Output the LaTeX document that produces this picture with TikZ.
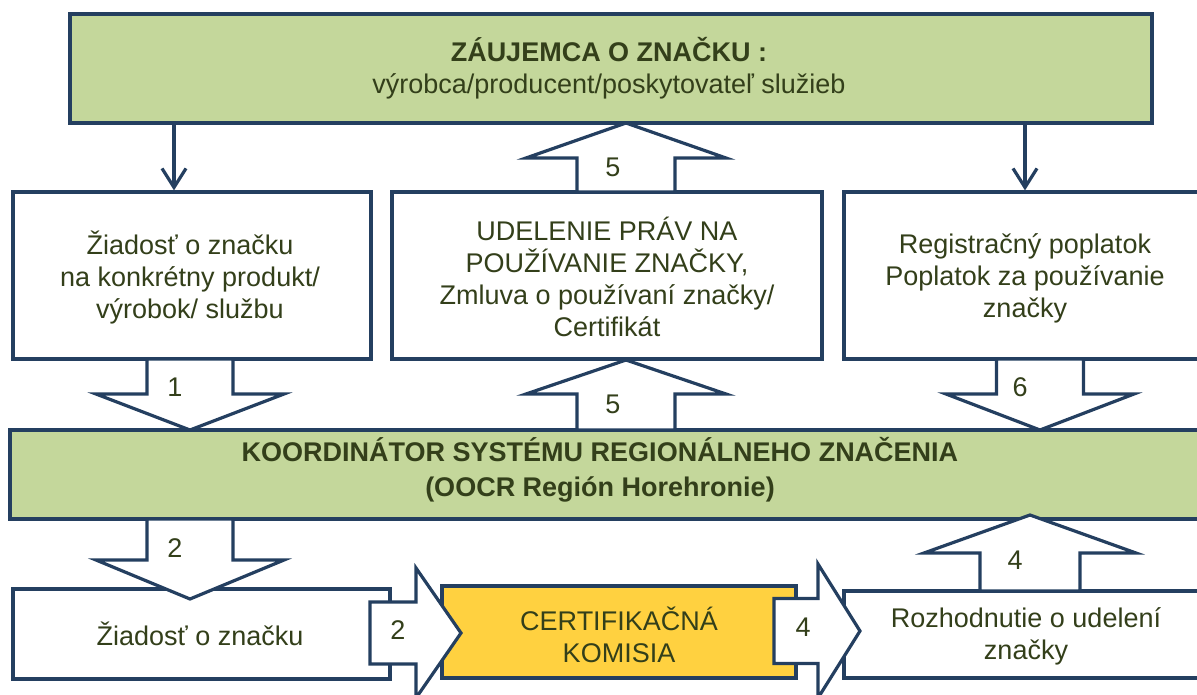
\documentclass[tikz,border=0pt]{standalone}
\usepackage{fontspec}
\setmainfont{Liberation Sans}
\usetikzlibrary{arrows.meta}
\definecolor{bord}{HTML}{243F60}
\definecolor{grn}{HTML}{C4D79B}
\definecolor{yel}{HTML}{FFD140}
\definecolor{txt}{HTML}{333F1A}
\newcommand{\vbarrow}[6]{% xc, ystart, ybase, ytip, shaft half, head half
  \draw[barrow] ({#1-#5},#2) -- ({#1-#5},#3) -- ({#1-#6},#3) -- (#1,#4) -- ({#1+#6},#3) -- ({#1+#5},#3) -- ({#1+#5},#2) -- cycle;}
\newcommand{\hbarrow}[6]{% yc, xstart, xbase, xtip, shaft half, head half
  \draw[barrow] (#2,{#1-#5}) -- (#3,{#1-#5}) -- (#3,{#1-#6}) -- (#4,#1) -- (#3,{#1+#6}) -- (#3,{#1+#5}) -- (#2,{#1+#5}) -- cycle;}
\begin{document}
\begin{tikzpicture}[x=1pt,y=-1pt,
  box/.style={draw=bord, line width=3.2pt, fill=white, inner sep=0pt},
  greenbox/.style={box, fill=grn},
  yelbox/.style={box, fill=yel},
  lbl/.style={text=txt, font=\fontsize{27}{32}\selectfont, align=center, inner sep=0pt},
  blbl/.style={lbl, font=\fontsize{27}{35}\selectfont\bfseries},
  barrow/.style={draw=bord, line width=3.2pt, fill=white, line join=miter},
  conn/.style={draw=bord, line width=3.2pt, -{Straight Barb[length=19pt,width=24pt]}}]
\useasboundingbox (0,0) rectangle (1197,694);
% boxes
\node[greenbox, minimum width=1082pt, minimum height=109pt] (top) at (611,68.5) {};
\node[box, minimum width=358pt, minimum height=167pt] (lbox) at (192,275.5) {};
\node[box, minimum width=430pt, minimum height=167pt] (mbox) at (607,275.5) {};
\node[box, minimum width=371pt, minimum height=167pt] (rbox) at (1029.5,275.5) {};
\node[greenbox, minimum width=1205pt, minimum height=89pt] (koord) at (612.5,474.5) {};
\node[box, minimum width=377pt, minimum height=90pt] (zbox) at (201.5,634) {};
\node[yelbox, minimum width=354pt, minimum height=92pt] (cbox) at (619,632) {};
\node[box, minimum width=371pt, minimum height=87pt] (roz) at (1029.5,634.5) {};
% texts
\node[lbl] (ttop) at (609,68) {\textbf{ZÁUJEMCA O ZNAČKU :}\\výrobca/producent/poskytovateľ služieb};
\node[lbl] (tl) at (190,277) {Žiadosť o značku\\na konkrétny produkt/\\výrobok/ službu};
\node[lbl] (tm) at (607,277) {UDELENIE PRÁV NA\\POUŽÍVANIE ZNAČKY,\\Zmluva o používaní značky/\\Certifikát};
\node[lbl] (tr) at (1025,278) {Registračný poplatok\\Poplatok za používanie\\značky};
\node[blbl] (tk) at (600,470) {KOORDINÁTOR SYSTÉMU REGIONÁLNEHO ZNAČENIA\\(OOCR Región Horehronie)};
\node[lbl] (tz) at (200,634) {Žiadosť o značku};
\node[lbl] (tc) at (619,635) {CERTIFIKAČNÁ\\KOMISIA};
\node[lbl] (tro) at (1026,636) {Rozhodnutie o udelení\\značky};
% thin arrows
\draw[conn] ([xshift=-18pt]lbox.north |- top.south) -- ([xshift=-18pt]lbox.north);
\draw[conn] ([xshift=-4.5pt]rbox.north |- top.south) -- ([xshift=-4.5pt]rbox.north);
% block arrows
\vbarrow{626}{192}{158}{123}{49}{100}
\vbarrow{626}{430}{394}{360}{49}{100}
\vbarrow{190}{359}{394}{430}{43}{94}
\vbarrow{190}{519}{560}{599}{43}{94}
\vbarrow{1040}{359}{394}{430}{43.5}{94}
\vbarrow{1030}{591}{553}{515}{50}{106}
\hbarrow{633}{370}{416}{461}{31}{65}
\hbarrow{631}{774}{818}{860}{32.5}{67}
% numbers
\node[lbl] (n5a) at (613,167) {5};
\node[lbl] (n5b) at (613,404) {5};
\node[lbl] (n1) at (175,387) {1};
\node[lbl] (n6) at (1020,387) {6};
\node[lbl] (n2a) at (175,548) {2};
\node[lbl] (n4a) at (1015,560) {4};
\node[lbl] (n2b) at (398,630) {2};
\node[lbl] (n4b) at (803,627) {4};
\end{tikzpicture}
\end{document}
